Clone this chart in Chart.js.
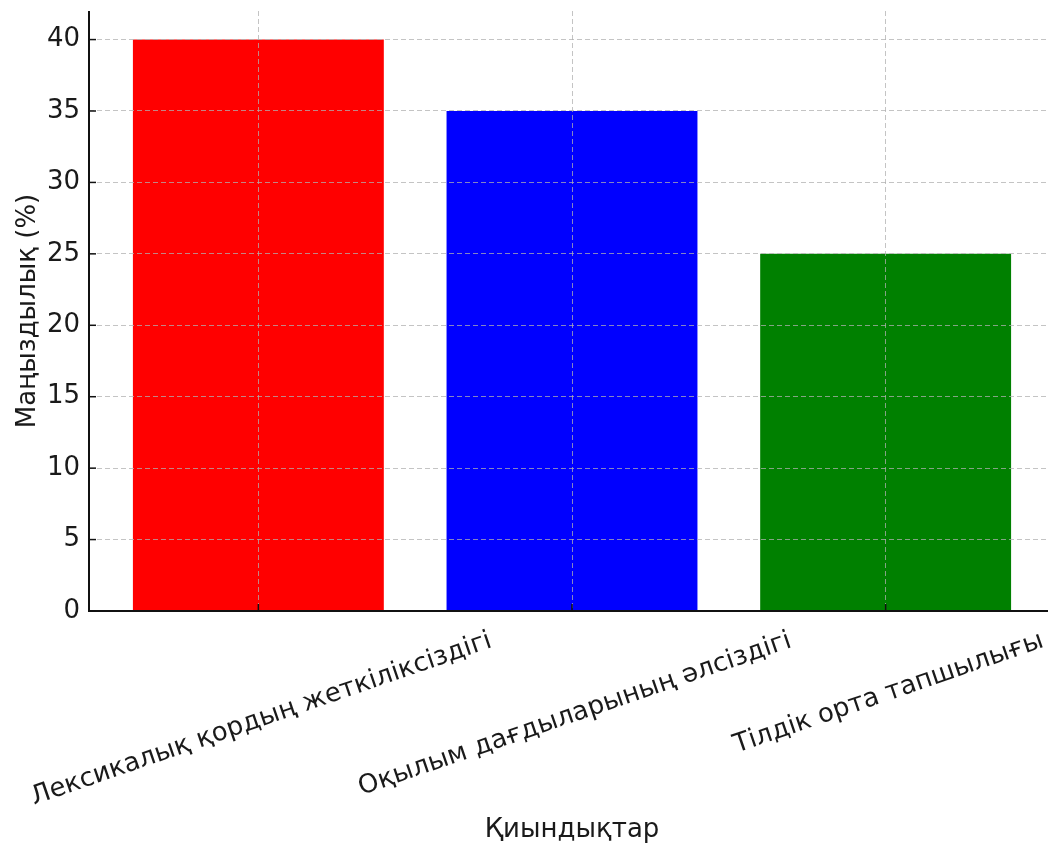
<!DOCTYPE html>
<html>
<head>
<meta charset="utf-8">
<script src="https://cdn.jsdelivr.net/npm/chart.js"></script>
<style>
  html, body { margin: 0; padding: 0; background: #fff; overflow: hidden; }
  canvas { display: block; }
</style>
</head>
<body>
<canvas id="difficultyChart" width="1060" height="843"></canvas>
<script>
// Қиындықтар және олардың маңыздылығы (%)
const categories = [
    'Лексикалық қордың жеткіліксіздігі',
    'Оқылым дағдыларының әлсіздігі',
    'Тілдік орта тапшылығы'
];
const importance = [40, 35, 25];
const barColors = ['#ff0000', '#0000ff', '#008000'];
const yTicks = [0, 5, 10, 15, 20, 25, 30, 35, 40];

const FONT = '"DejaVu Sans", sans-serif';
const LABEL_ANGLE = 19;

// spines, inward ticks and rotated category labels centred under each bar
const axisDecor = {
    id: 'axisDecor',
    afterDraw(chart) {
        const ctx = chart.ctx;
        const xs = chart.scales.x;
        const ys = chart.scales.y;
        const a = LABEL_ANGLE * Math.PI / 180;

        ctx.save();
        ctx.strokeStyle = '#111';
        ctx.lineWidth = 2;
        ctx.beginPath();
        ctx.moveTo(xs.left, ys.top);
        ctx.lineTo(xs.left, ys.bottom);
        ctx.lineTo(xs.right, ys.bottom);
        ctx.stroke();

        ctx.lineWidth = 1.5;
        ys.ticks.forEach(t => {
            const py = ys.getPixelForValue(t.value);
            ctx.beginPath();
            ctx.moveTo(xs.left, py);
            ctx.lineTo(xs.left + 7, py);
            ctx.stroke();
        });
        xs.ticks.forEach(t => {
            const px = xs.getPixelForValue(t.value);
            ctx.beginPath();
            ctx.moveTo(px, ys.bottom);
            ctx.lineTo(px, ys.bottom - 7);
            ctx.stroke();
        });

        ctx.font = '26px ' + FONT;
        ctx.fillStyle = '#1a1a1a';
        ctx.textAlign = 'center';
        ctx.textBaseline = 'middle';
        categories.forEach((label, i) => {
            const w = ctx.measureText(label).width;
            const h = 30;
            const bh = w * Math.sin(a) + h * Math.cos(a);
            const cx = xs.getPixelForValue(i) + 3;
            const cy = ys.bottom + 15 + bh / 2;
            ctx.save();
            ctx.translate(cx, cy);
            ctx.rotate(-a);
            ctx.fillText(label, 0, 0);
            ctx.restore();
        });
        ctx.restore();
    }
};

const gridOpts = {
    z: 1,
    offset: false,
    color: 'rgba(176,176,176,0.75)',
    lineWidth: 1,
    drawTicks: false
};

const ctx = document.getElementById('difficultyChart').getContext('2d');

new Chart(ctx, {
    type: 'bar',
    data: {
        datasets: [{
            label: 'Маңыздылық (%)',
            data: importance.map((v, i) => ({ x: i, y: v })),
            backgroundColor: barColors,
            borderWidth: 0,
            barPercentage: 0.8,
            categoryPercentage: 1.0
        }]
    },
    options: {
        responsive: false,
        animation: false,
        layout: { padding: { top: 11, right: 5, bottom: 0, left: 0 } },
        plugins: {
            legend: { display: false },
            tooltip: { enabled: false }
        },
        scales: {
            x: {
                type: 'linear',
                min: -0.54,
                max: 2.54,
                offset: false,
                afterBuildTicks: s => { s.ticks = categories.map((c, i) => ({ value: i })); },
                afterFit: s => { s.height = 232; s.paddingLeft = 0; s.paddingRight = 0; },
                ticks: { display: false },
                grid: gridOpts,
                border: { display: false, dash: [5, 3] },
                title: {
                    display: true,
                    text: 'Қиындықтар',
                    color: '#1a1a1a',
                    font: { family: FONT, size: 26, lineHeight: 1 },
                    padding: { top: 0, bottom: 0 }
                }
            },
            y: {
                min: 0,
                max: 42,
                afterBuildTicks: s => { s.ticks = yTicks.map(v => ({ value: v })); },
                afterFit: s => { s.width = 89; s.paddingTop = 0; s.paddingBottom = 0; },
                ticks: {
                    color: '#1a1a1a',
                    padding: 9,
                    font: { family: FONT, size: 26 }
                },
                grid: gridOpts,
                border: { display: false, dash: [5, 3] },
                title: {
                    display: true,
                    text: 'Маңыздылық (%)',
                    color: '#1a1a1a',
                    font: { family: FONT, size: 26, lineHeight: 1 },
                    padding: { top: 15, bottom: 0 }
                }
            }
        }
    },
    plugins: [axisDecor]
});
</script>
</body>
</html>
